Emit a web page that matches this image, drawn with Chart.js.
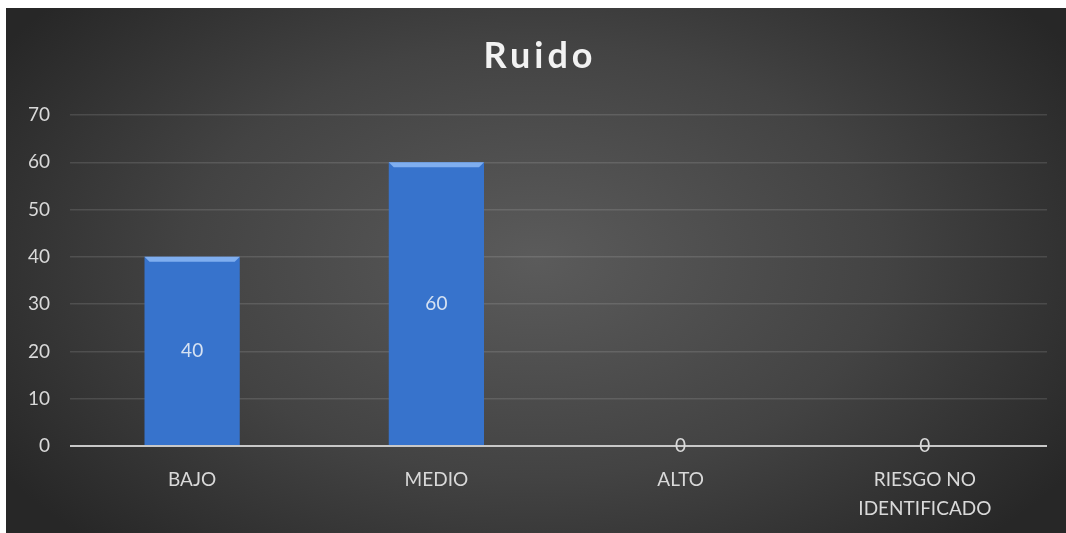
<!DOCTYPE html>
<html>
<head>
<meta charset="utf-8">
<script src="https://cdn.jsdelivr.net/npm/chart.js@4/dist/chart.umd.min.js"></script>
<style>
  html, body { margin: 0; padding: 0; background: #ffffff; }
  #wrap {
    position: absolute;
    left: 6px;
    top: 8px;
    width: 1060px;
    height: 525px;
    background: radial-gradient(ellipse 60% 75% at 50% 48%, #5b5b5b 0%, #434343 55%, #272727 100%);
  }
</style>
</head>
<body>
<div id="wrap"><canvas id="chart"></canvas></div>
<script>
// Ruido chart data
const categories = ["BAJO", "MEDIO", "ALTO", ["RIESGO NO", "IDENTIFICADO"]];
const values = [40, 60, 0, 0];
const yTicks = [0, 10, 20, 30, 40, 50, 60, 70];
const chartTitle = "Ruido";

const textColor = "#d9d9d9";
const fontFamily = "Lato, 'Open Sans', sans-serif";

// Title drawn by hand so letter spacing can be set
const titlePlugin = {
  id: "spacedTitle",
  afterDraw(chart) {
    const ctx = chart.ctx;
    ctx.save();
    ctx.font = "bold 36px " + fontFamily;
    ctx.letterSpacing = "4px";
    ctx.fillStyle = "#f2f2f2";
    ctx.textAlign = "center";
    ctx.textBaseline = "middle";
    ctx.fillText(chartTitle, chart.width / 2 + 4, 48);
    ctx.restore();
  },
};

// Values in the middle of each bar, plus a small top bevel
const barLabelPlugin = {
  id: "barLabels",
  afterDatasetsDraw(chart) {
    const ctx = chart.ctx;
    const meta = chart.getDatasetMeta(0);
    ctx.save();
    meta.data.forEach((bar, i) => {
      const v = values[i];
      if (v > 0) {
        const half = bar.width / 2;
        ctx.fillStyle = "rgba(140, 185, 245, 0.85)";
        ctx.beginPath();
        ctx.moveTo(bar.x - half, bar.y);
        ctx.lineTo(bar.x + half, bar.y);
        ctx.lineTo(bar.x + half - 5, bar.y + 5);
        ctx.lineTo(bar.x - half + 5, bar.y + 5);
        ctx.closePath();
        ctx.fill();
      }
      ctx.font = "19px " + fontFamily;
      ctx.fillStyle = v > 0 ? "#d6e2f2" : textColor;
      ctx.textAlign = "center";
      ctx.textBaseline = "middle";
      ctx.fillText(String(v), bar.x, (bar.y + bar.base) / 2);
    });
    ctx.restore();
  },
};

function barFill(context) {
  const bar = context.element;
  const area = context.chart.chartArea;
  if (!area || !bar || !bar.width) return "#3773cc";
  const half = bar.width / 2;
  const g = context.chart.ctx.createLinearGradient(bar.x - half, 0, bar.x + half, 0);
  g.addColorStop(0, "#2b62b0");
  g.addColorStop(0.1, "#3876cf");
  g.addColorStop(0.85, "#3773cc");
  g.addColorStop(1, "#2a5ca6");
  return g;
}

new Chart(document.getElementById("chart"), {
  type: "bar",
  data: {
    labels: categories,
    datasets: [
      {
        data: values,
        backgroundColor: barFill,
        borderWidth: 0,
        barPercentage: 0.39,
        categoryPercentage: 1,
      },
    ],
  },
  options: {
    responsive: true,
    maintainAspectRatio: false,
    animation: false,
    layout: {
      padding: { top: 107, right: 19, bottom: 0, left: 6 },
    },
    plugins: {
      legend: { display: false },
      title: { display: false },
      tooltip: { enabled: false },
    },
    scales: {
      x: {
        grid: { display: false, drawTicks: false },
        border: { display: false },
        afterFit(scale) {
          scale.height = 87;
        },
        ticks: {
          color: textColor,
          padding: 20,
          font: { family: fontFamily, size: 19, lineHeight: 1.5 },
        },
      },
      y: {
        min: 0,
        max: 70,
        afterBuildTicks(scale) {
          scale.ticks = yTicks.map((v) => ({ value: v }));
        },
        afterFit(scale) {
          scale.width = 58;
        },
        grid: {
          drawTicks: false,
          color: (c) => (c.tick && c.tick.value === 0 ? "#c8c8c8" : "rgba(255,255,255,0.12)"),
          lineWidth: (c) => (c.tick && c.tick.value === 0 ? 2 : 1.5),
        },
        border: { display: false },
        ticks: {
          color: textColor,
          padding: 20,
          font: { family: fontFamily, size: 19 },
        },
      },
    },
  },
  plugins: [titlePlugin, barLabelPlugin],
});
</script>
</body>
</html>
